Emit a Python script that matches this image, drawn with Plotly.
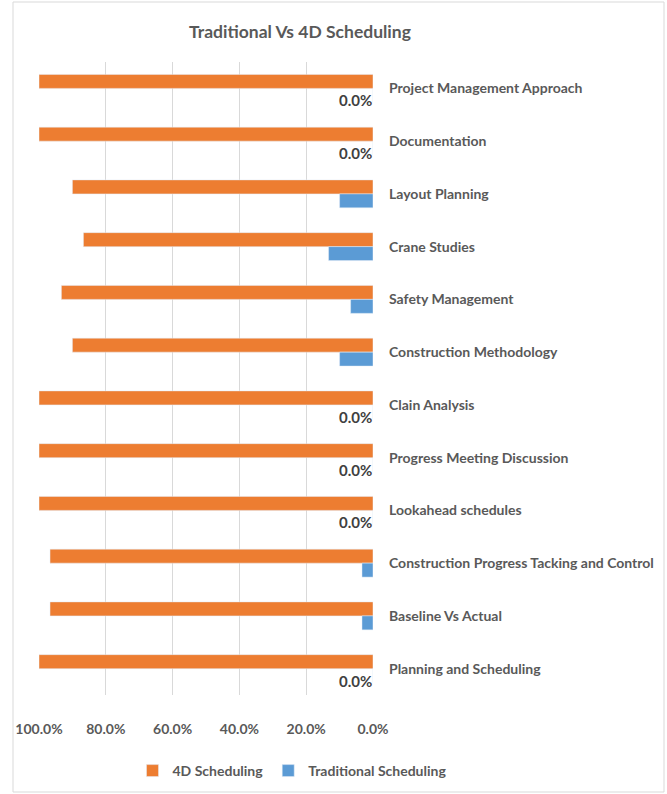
import plotly.graph_objects as go

categories = [
    "Project Management Approach",
    "Documentation",
    "Layout Planning",
    "Crane Studies",
    "Safety Management",
    "Construction Methodology",
    "Clain Analysis",
    "Progress Meeting Discussion",
    "Lookahead schedules",
    "Construction Progress Tacking and Control",
    "Baseline Vs Actual",
    "Planning and Scheduling",
]
scheduling_4d = [1.0, 1.0, 0.90, 0.867, 0.933, 0.90, 1.0, 1.0, 1.0, 0.967, 0.967, 1.0]
traditional = [0.0, 0.0, 0.10, 0.133, 0.067, 0.10, 0.0, 0.0, 0.0, 0.033, 0.033, 0.0]
x_ticks = [1.0, 0.8, 0.6, 0.4, 0.2, 0.0]

FONT = "Lato, Roboto, sans-serif"
GREY = "#595959"

W, H = 667, 794
L, R, T, B = 39, 294, 62, 99
pw, ph = W - L - R, H - T - B

def px_x(p):
    return (p - L) / pw

def px_y(p):
    return (H - B - p) / ph

fig = go.Figure()
fig.add_trace(go.Bar(
    y=categories, x=scheduling_4d, orientation="h", name="4D Scheduling",
    marker=dict(color="#ED7D31"), hoverinfo="x+y",
))
fig.add_trace(go.Bar(
    y=categories, x=traditional, orientation="h", name="Traditional Scheduling",
    marker=dict(color="#5B9BD5"), hoverinfo="x+y",
))

for cat, v in zip(categories, traditional):
    if v == 0:
        fig.add_annotation(
            x=v, y=cat, xref="x", yref="y", text=f"{v:.1%}", showarrow=False,
            xanchor="right", yanchor="middle", yshift=-12, xshift=1,
            font=dict(family=FONT, size=15, color="#404040", weight="bold"),
        )

fig.add_shape(
    type="rect", xref="paper", yref="paper",
    x0=px_x(13), x1=px_x(664), y0=px_y(792), y1=px_y(2),
    line=dict(color="#d9d9d9", width=1), fillcolor="rgba(0,0,0,0)", layer="below",
)

fig.update_layout(
    width=W, height=H,
    margin=dict(l=L, r=R, t=T, b=B, pad=0, autoexpand=False),
    paper_bgcolor="white", plot_bgcolor="white",
    barmode="group", bargap=0.47, bargroupgap=0,
    title=dict(
        text="Traditional Vs 4D Scheduling", x=300 / W, xanchor="center",
        y=1 - 32 / H, yanchor="middle",
        font=dict(family=FONT, size=17.5, color=GREY, weight="bold"),
    ),
    xaxis=dict(
        range=[1.0, 0.0], tickvals=x_ticks, tickformat=".1%",
        showgrid=True, gridcolor="#d9d9d9", gridwidth=1, zeroline=False,
        showline=False, ticks="", ticklabelstandoff=24, automargin=False,
        tickangle=0,
        tickfont=dict(family=FONT, size=14, color=GREY, weight="bold"),
    ),
    yaxis=dict(
        autorange="reversed", side="right", showgrid=False, zeroline=False,
        showline=False, ticks="", ticklabelstandoff=15, automargin=False,
        tickfont=dict(family=FONT, size=14, color=GREY, weight="bold"),
    ),
    legend=dict(
        orientation="h", xref="container", yref="container",
        x=292 / W, xanchor="center", y=1 - 771 / H, yanchor="middle",
        font=dict(family=FONT, size=14, color=GREY, weight="bold"),
        itemwidth=30, tracegroupgap=0,
    ),
    showlegend=True,
)

fig.write_html(
    "out.html",
    config={"displayModeBar": False},
    post_script="document.body.style.margin='0';",
)
